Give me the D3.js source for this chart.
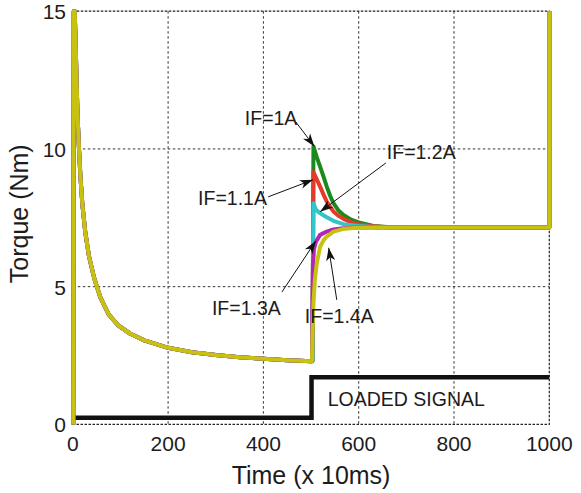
<!DOCTYPE html>
<html>
<head>
<meta charset="utf-8">
<script src="https://cdn.jsdelivr.net/npm/d3@7"></script>
<style>
  html, body { margin: 0; padding: 0; background: #fff; }
  svg { display: block; font-family: "Liberation Sans", Arial, Helvetica, sans-serif; }
</style>
</head>
<body>
<svg id="chart" width="581" height="493"></svg>
<script>
// Time axis (x 10 ms) and torque (Nm)
const xTicks = [0, 200, 400, 600, 800, 1000];
const yTicks = [0, 5, 10, 15];

// Start-up transient, common to every field current before the load is applied
const startT = [1, 2, 4, 6, 8, 10, 13, 16, 20, 26, 34, 45, 58, 75, 95, 120, 150, 200, 250, 300, 350, 400, 450, 501];
const startV = [0, 15, 15, 13.8, 12.4, 11.2, 10.0, 9.0, 8.0, 7.0, 6.1, 5.3, 4.6, 4.0, 3.6, 3.3, 3.05, 2.78, 2.62, 2.52, 2.44, 2.38, 2.33, 2.29];

// Response to the load step, per field current
const t1A  = [503, 505, 512, 519, 526, 533, 540, 547, 557, 568, 584, 600, 631, 660, 700, 1000, 1000];
const v1A  = [2.3, 10.09, 9.7, 9.36, 9.0, 8.63, 8.3, 8.03, 7.78, 7.6, 7.43, 7.33, 7.2, 7.17, 7.15, 7.15, 15];
const t11A = [503, 505, 512, 519, 526, 533, 540, 547, 557, 568, 584, 600, 630, 660, 1000, 1000];
const v11A = [2.3, 9.16, 8.9, 8.63, 8.35, 8.09, 7.9, 7.73, 7.58, 7.46, 7.34, 7.27, 7.19, 7.16, 7.15, 15];
const t12A = [503, 505, 510, 515, 525, 533, 547, 568, 600, 640, 1000, 1000];
const v12A = [2.3, 8.03, 7.8, 7.72, 7.6, 7.52, 7.39, 7.27, 7.2, 7.16, 7.15, 15];
const t13A = [502, 503, 504, 506, 510, 519, 533, 547, 568, 600, 1000, 1000];
const v13A = [2.3, 4.5, 5.8, 6.35, 6.62, 6.88, 7.0, 7.08, 7.12, 7.15, 7.15, 15];
const t14A = [502, 503, 505, 508, 512, 519, 526, 533, 547, 568, 600, 640, 1000, 1000];
const v14A = [2.3, 3.3, 4.4, 5.25, 5.85, 6.45, 6.68, 6.82, 7.0, 7.1, 7.14, 7.15, 7.15, 15];

const seriesNames  = ["IF=1A", "IF=1.1A", "IF=1.2A", "IF=1.3A", "IF=1.4A"];
const seriesColors = ["#1a8a1c", "#e43a2a", "#33c5c7", "#b126b3", "#c7c10f"];
const seriesT = [t1A, t11A, t12A, t13A, t14A];
const seriesV = [v1A, v11A, v12A, v13A, v14A];

// Load command signal
const loadT = [0, 501, 501, 1000];
const loadV = [0.24, 0.24, 1.71, 1.71];
const loadLabel = "LOADED SIGNAL";
const loadLabelPos = [535, 0.68];

// Annotations: label position, arrow tail and arrow tip (data units)
const noteText = ["IF=1A", "IF=1.1A", "IF=1.2A", "IF=1.3A", "IF=1.4A"];
const notePos  = [[361, 10.87], [263, 7.97], [659, 9.64], [292, 3.97], [487, 3.68]];
const noteTail = [[468, 10.98], [410, 8.26], [657, 9.49], [439, 4.81], [554, 4.52]];
const noteTip  = [[507, 10.09], [504, 8.88], [519, 7.72], [510, 6.66], [537, 6.41]];

const svg = d3.select("#chart");
const plotLeft = 72.8, plotRight = 549.3, plotTop = 11.2, plotBottom = 424.4;

const x = d3.scaleLinear().domain([0, 1000]).range([plotLeft, plotRight]);
const y = d3.scaleLinear().domain([0, 15]).range([plotBottom, plotTop]);

const textColor = "#1c1c1c";

// Grid
const grid = svg.append("g");
grid.selectAll("line.gx").data(xTicks.slice(1, -1)).join("line")
  .attr("x1", d => x(d)).attr("x2", d => x(d))
  .attr("y1", plotTop).attr("y2", plotBottom)
  .attr("stroke", "#333").attr("stroke-width", 1).attr("stroke-dasharray", "2.5,2.5");
grid.selectAll("line.gy").data(yTicks.slice(1, -1)).join("line")
  .attr("x1", plotLeft).attr("x2", plotRight)
  .attr("y1", d => y(d)).attr("y2", d => y(d))
  .attr("stroke", "#333").attr("stroke-width", 1).attr("stroke-dasharray", "2.5,2.5");

// Frame
svg.append("rect")
  .attr("x", plotLeft).attr("y", plotTop)
  .attr("width", plotRight - plotLeft).attr("height", plotBottom - plotTop)
  .attr("fill", "none").attr("stroke", "#222").attr("stroke-width", 1.2)
  .attr("stroke-dasharray", "2.5,1.5");

// Tick labels
svg.append("g").selectAll("text").data(xTicks).join("text")
  .attr("x", d => x(d)).attr("y", 451)
  .attr("text-anchor", "middle").attr("font-size", 21).attr("fill", textColor)
  .text(d => d);
svg.append("g").selectAll("text").data(yTicks).join("text")
  .attr("x", 66).attr("y", d => y(d) + 8)
  .attr("text-anchor", "end").attr("font-size", 21).attr("fill", textColor)
  .text(d => d);

// Axis titles
svg.append("text")
  .attr("x", (plotLeft + plotRight) / 2).attr("y", 484)
  .attr("text-anchor", "middle").attr("font-size", 25).attr("fill", textColor)
  .text("Time (x 10ms)");
svg.append("text")
  .attr("transform", `translate(28,${(plotTop + plotBottom) / 2 - 4}) rotate(-90)`)
  .attr("text-anchor", "middle").attr("font-size", 25).attr("fill", textColor)
  .text("Torque (Nm)");

// Load signal
const line = d3.line().x(d => x(d[0])).y(d => y(d[1]));
svg.append("path")
  .datum(loadT.map((t, i) => [t, loadV[i]]))
  .attr("d", line)
  .attr("fill", "none").attr("stroke", "#111").attr("stroke-width", 4.5)
  .attr("stroke-linejoin", "miter");

// Torque curves (last drawn sits on top)
const startPts = startT.map((t, i) => [t, startV[i]]);
seriesT.forEach((ts, k) => {
  const pts = startPts.concat(ts.map((t, i) => [t, seriesV[k][i]]));
  svg.append("path")
    .datum(pts)
    .attr("d", line)
    .attr("fill", "none")
    .attr("stroke", seriesColors[k])
    .attr("stroke-width", 4)
    .attr("stroke-linejoin", "round");
});

// Load label
svg.append("text")
  .attr("x", x(loadLabelPos[0])).attr("y", y(loadLabelPos[1]))
  .attr("font-size", 19.5).attr("fill", textColor)
  .text(loadLabel);

// Annotations with arrows
const notes = svg.append("g");
noteText.forEach((txt, i) => {
  notes.append("text")
    .attr("x", x(notePos[i][0])).attr("y", y(notePos[i][1]))
    .attr("font-size", 19.5).attr("fill", textColor)
    .text(txt);
  const x0 = x(noteTail[i][0]), y0 = y(noteTail[i][1]);
  const x1 = x(noteTip[i][0]), y1 = y(noteTip[i][1]);
  const ang = Math.atan2(y1 - y0, x1 - x0) * 180 / Math.PI;
  notes.append("line")
    .attr("x1", x0).attr("y1", y0).attr("x2", x1).attr("y2", y1)
    .attr("stroke", "#111").attr("stroke-width", 1);
  notes.append("path")
    .attr("d", "M0,0 L-13,-4.5 L-9.5,0 L-13,4.5 Z")
    .attr("transform", `translate(${x1},${y1}) rotate(${ang})`)
    .attr("fill", "#111");
});
</script>
</body>
</html>
